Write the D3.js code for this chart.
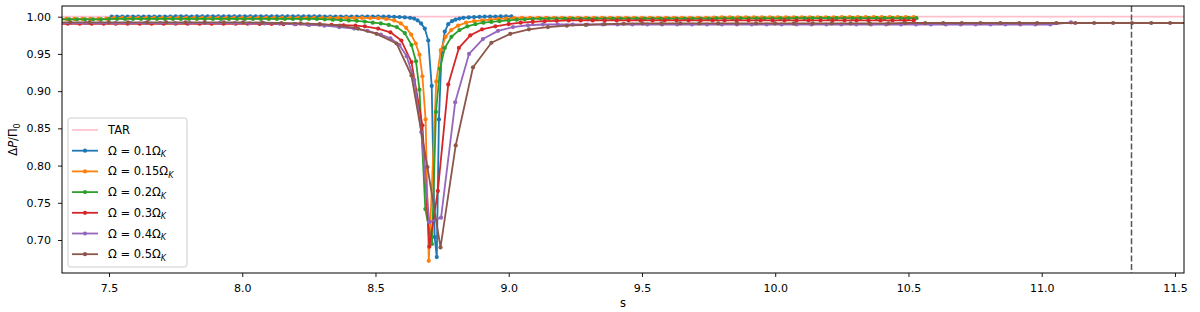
<!DOCTYPE html>
<html>
<head>
<meta charset="utf-8">
<script src="https://cdn.jsdelivr.net/npm/d3@7"></script>
<style>
  body { margin: 0; background: #fff; }
  svg { display: block; }
  text { font-family: "DejaVu Sans", sans-serif; fill: #000; }
</style>
</head>
<body>
<svg id="chart" width="1200" height="312"></svg>
<script>
// values: [s, ΔP/Π0]
const tarLevel = 1.0;
const markerS = 11.337;

const xTicks = [7.5, 8.0, 8.5, 9.0, 9.5, 10.0, 10.5, 11.0, 11.5];
const yTicks = [0.70, 0.75, 0.80, 0.85, 0.90, 0.95, 1.00];

const omega01 = [
  [7.51,1.0],[7.53,1.0],[7.55,1.0002],[7.57,1.0],[7.59,1.0002],[7.61,1.0],[7.63,1.0002],[7.65,1.0],[7.67,1.0002],[7.69,1.0],
  [7.71,1.0002],[7.73,1.0],[7.75,1.0003],[7.77,1.0003],[7.79,1.0003],[7.81,1.0002],[7.83,1.0003],[7.85,1.0003],[7.87,1.0003],[7.89,1.0003],
  [7.91,1.0003],[7.93,1.0003],[7.95,1.0003],[7.97,1.0003],[7.99,1.0003],[8.01,1.0003],[8.03,1.0003],[8.05,1.0003],[8.07,1.0003],[8.09,1.0003],
  [8.11,1.0003],[8.13,1.0003],[8.15,1.0003],[8.17,1.0003],[8.19,1.0003],[8.21,1.0003],[8.23,1.0003],[8.25,1.0003],[8.27,1.0003],[8.29,1.0003],
  [8.31,1.0002],[8.33,1.0002],[8.35,1.0002],[8.37,1.0002],[8.39,1.0002],[8.41,1.0002],[8.43,1.0002],[8.45,1.0002],[8.47,1.0002],[8.49,1.0002],
  [8.51,1.0001],[8.53,1.0],[8.55,1.0],[8.57,0.9998],[8.59,0.9996],[8.61,0.9992],[8.63,0.9985],[8.645,0.9975],[8.658,0.995],[8.671,0.991],
  [8.685,0.984],[8.698,0.968],[8.711,0.907],[8.722,0.704],[8.730,0.677],[8.738,0.862],[8.748,0.952],[8.760,0.980],[8.773,0.990],[8.787,0.994],
  [8.80,0.996],[8.815,0.9975],[8.83,0.9985],[8.85,0.999],[8.87,0.9995],[8.89,0.9998],[8.91,1.0],[8.93,1.0002],[8.95,1.0002],[8.97,1.0003],
  [8.99,1.0003],[9.01,1.0003]
];

const omega015 = [
  [7.31,0.997],[7.34,0.997],[7.37,0.997],[7.40,0.997],[7.43,0.997],[7.46,0.997],[7.49,0.9975],[7.52,0.9985],[7.55,0.9985],[7.58,0.9985],
  [7.61,0.9985],[7.64,0.9985],[7.67,0.9985],[7.70,0.9985],[7.73,0.9985],[7.76,0.9985],[7.79,0.9985],[7.82,0.9985],[7.85,0.9985],[7.88,0.9985],
  [7.91,0.9985],[7.94,0.9985],[7.97,0.9985],[8.00,0.9985],[8.03,0.9985],[8.06,0.9985],[8.09,0.9985],[8.12,0.9985],[8.15,0.9985],[8.18,0.9985],
  [8.21,0.9985],[8.24,0.9985],[8.27,0.9985],[8.30,0.9985],[8.33,0.9985],[8.36,0.9985],[8.39,0.9985],[8.42,0.9985],[8.45,0.9984],[8.48,0.9982],
  [8.51,0.998],[8.54,0.997],[8.57,0.995],[8.595,0.991],[8.615,0.985],[8.634,0.976],[8.651,0.964],[8.665,0.949],[8.676,0.920],[8.688,0.862],
  [8.700,0.672],[8.728,0.913],[8.745,0.955],[8.763,0.973],[8.784,0.982],[8.81,0.988],[8.84,0.992],[8.87,0.994],[8.90,0.995],[8.93,0.996],
  [8.96,0.997],[8.99,0.9975],[9.02,0.998],[9.05,0.9985],[9.08,0.9985],[9.11,0.9985],[9.14,0.9985],[9.17,0.9985],[9.20,0.9985],[9.23,0.9985],
  [9.26,0.9985],[9.29,0.9985],[9.32,0.9985],[9.35,0.9985],[9.38,0.9985],[9.41,0.9985],[9.44,0.9985],[9.47,0.9985],[9.50,0.9985],[9.53,0.9985],
  [9.56,0.9985],[9.59,0.9985],[9.62,0.9985],[9.65,0.9985],[9.68,0.9985],[9.71,0.9985],[9.74,0.9985],[9.77,0.9988],[9.80,0.999],[9.83,0.999],
  [9.86,0.999],[9.89,0.999],[9.92,0.999],[9.95,0.999],[9.98,0.999],[10.01,0.999],[10.04,0.999],[10.07,0.999],[10.10,0.999],[10.13,0.999],
  [10.16,0.9992],[10.19,0.9992],[10.22,0.9992],[10.25,0.9993],[10.28,0.9993],[10.31,0.9994],[10.34,0.9994],[10.37,0.9995],[10.40,0.9995],[10.43,0.9995],
  [10.46,0.9995],[10.49,0.9995],[10.52,0.9995]
];

const omega02 = [
  [7.32,0.9965],[7.35,0.9965],[7.38,0.9965],[7.41,0.9965],[7.44,0.9965],[7.47,0.9965],[7.50,0.9968],[7.53,0.997],[7.56,0.997],[7.59,0.997],
  [7.62,0.997],[7.65,0.997],[7.68,0.997],[7.71,0.997],[7.74,0.997],[7.77,0.997],[7.80,0.997],[7.83,0.997],[7.86,0.997],[7.89,0.997],
  [7.92,0.997],[7.95,0.997],[7.98,0.997],[8.01,0.997],[8.04,0.997],[8.07,0.997],[8.10,0.997],[8.13,0.997],[8.16,0.997],[8.19,0.997],
  [8.22,0.997],[8.25,0.997],[8.28,0.997],[8.31,0.9965],[8.34,0.996],[8.37,0.9955],[8.40,0.995],[8.43,0.9945],[8.46,0.9935],[8.49,0.992],
  [8.52,0.991],[8.55,0.989],[8.58,0.986],[8.61,0.978],[8.635,0.962],[8.652,0.940],[8.665,0.902],[8.687,0.7415],[8.712,0.6946],[8.727,0.872],
  [8.742,0.930],[8.76,0.958],[8.785,0.973],[8.815,0.982],[8.845,0.987],[8.875,0.990],[8.905,0.992],[8.935,0.993],[8.965,0.994],[9.00,0.995],
  [9.03,0.996],[9.06,0.9965],[9.09,0.997],[9.12,0.9975],[9.15,0.9975],[9.18,0.9975],[9.21,0.9975],[9.24,0.9975],[9.27,0.9975],[9.30,0.9975],
  [9.33,0.9975],[9.36,0.9975],[9.39,0.9975],[9.42,0.9975],[9.45,0.9975],[9.48,0.9975],[9.51,0.9975],[9.54,0.9975],[9.57,0.9975],[9.60,0.9975],
  [9.63,0.9975],[9.66,0.9975],[9.69,0.9975],[9.72,0.9975],[9.75,0.9975],[9.78,0.9977],[9.81,0.9977],[9.84,0.9977],[9.87,0.9977],[9.90,0.9977],
  [9.93,0.9978],[9.96,0.9978],[9.99,0.9978],[10.02,0.9978],[10.05,0.9978],[10.08,0.998],[10.11,0.998],[10.14,0.998],[10.17,0.998],[10.20,0.998],
  [10.23,0.998],[10.26,0.998],[10.29,0.998],[10.32,0.998],[10.35,0.998],[10.38,0.998],[10.41,0.998],[10.44,0.998],[10.47,0.998],[10.50,0.998],
  [10.53,0.998]
];

const omega03 = [
  [7.30,0.9905],[7.345,0.9905],[7.39,0.9905],[7.435,0.9905],[7.48,0.9905],[7.525,0.9905],[7.57,0.9905],[7.615,0.9905],[7.66,0.9905],[7.705,0.9905],
  [7.75,0.9905],[7.795,0.9905],[7.84,0.9905],[7.885,0.9905],[7.93,0.9905],[7.975,0.9905],[8.02,0.9905],[8.065,0.9903],[8.11,0.9902],[8.155,0.990],
  [8.20,0.990],[8.245,0.9897],[8.29,0.9895],[8.335,0.989],[8.38,0.9885],[8.425,0.988],[8.46,0.987],[8.51,0.984],[8.556,0.979],[8.597,0.968],
  [8.635,0.939],[8.676,0.854],[8.702,0.691],[8.734,0.766],[8.773,0.909],[8.813,0.958],[8.856,0.975],[8.90,0.983],[8.95,0.987],[9.00,0.990],
  [9.045,0.992],[9.09,0.993],[9.135,0.994],[9.18,0.9945],[9.225,0.995],[9.27,0.995],[9.315,0.995],[9.36,0.995],[9.405,0.995],[9.45,0.995],
  [9.495,0.995],[9.54,0.995],[9.585,0.995],[9.63,0.995],[9.675,0.995],[9.72,0.995],[9.765,0.995],[9.81,0.995],[9.855,0.995],[9.90,0.995],
  [9.945,0.995],[9.99,0.995],[10.035,0.995],[10.08,0.995],[10.125,0.995],[10.17,0.995],[10.215,0.995],[10.26,0.995],[10.305,0.995],[10.35,0.995],
  [10.395,0.995],[10.44,0.995],[10.485,0.995],[10.52,0.995]
];

const omega04 = [
  [7.30,0.9915],[7.356,0.9915],[7.412,0.9915],[7.468,0.9915],[7.524,0.9915],[7.58,0.9915],[7.636,0.9915],[7.692,0.9915],[7.748,0.9915],[7.804,0.9915],
  [7.86,0.9915],[7.916,0.9915],[7.972,0.9915],[8.028,0.9912],[8.084,0.991],[8.14,0.9905],[8.196,0.990],[8.252,0.989],[8.308,0.988],[8.364,0.986],
  [8.42,0.984],[8.47,0.981],[8.52,0.976],[8.556,0.971],[8.59,0.962],[8.617,0.947],[8.645,0.915],[8.672,0.845],[8.702,0.724],[8.746,0.730],
  [8.799,0.885],[8.851,0.950],[8.903,0.970],[8.96,0.981],[9.016,0.986],[9.072,0.9885],[9.128,0.9895],[9.184,0.9895],[9.24,0.9895],[9.296,0.9895],
  [9.352,0.9895],[9.408,0.9895],[9.464,0.9895],[9.52,0.9895],[9.576,0.9895],[9.632,0.9895],[9.688,0.9895],[9.744,0.9895],[9.80,0.9895],[9.856,0.9895],
  [9.912,0.9895],[9.968,0.9895],[10.024,0.9895],[10.08,0.9895],[10.136,0.9895],[10.192,0.9895],[10.248,0.9895],[10.304,0.9895],[10.36,0.9895],[10.416,0.9895],
  [10.472,0.9895],[10.528,0.9895],[10.584,0.9895],[10.64,0.9895],[10.696,0.9895],[10.752,0.9895],[10.808,0.9895],[10.864,0.9895],[10.92,0.9895],[10.976,0.9895],
  [11.032,0.9895],[11.11,0.9925]
];

const omega05 = [
  [7.283,0.9925],[7.355,0.9925],[7.427,0.9925],[7.499,0.9925],[7.571,0.9925],[7.643,0.9925],[7.715,0.9925],[7.787,0.9925],[7.859,0.9925],[7.931,0.9925],
  [8.003,0.9925],[8.075,0.992],[8.147,0.9915],[8.219,0.991],[8.291,0.990],[8.366,0.988],[8.434,0.984],[8.504,0.977],[8.579,0.964],[8.635,0.921],
  [8.695,0.798],[8.744,0.690],[8.801,0.827],[8.866,0.932],[8.935,0.965],[9.006,0.977],[9.076,0.983],[9.147,0.986],[9.218,0.988],[9.289,0.989],
  [9.36,0.990],[9.431,0.9905],[9.502,0.991],[9.573,0.991],[9.644,0.991],[9.715,0.991],[9.786,0.991],[9.857,0.991],[9.928,0.991],[9.999,0.991],
  [10.07,0.991],[10.141,0.991],[10.212,0.991],[10.283,0.991],[10.354,0.991],[10.425,0.991],[10.488,0.9915],[10.563,0.9915],[10.63,0.9915],[10.70,0.9915],
  [10.77,0.9915],[10.845,0.9915],[10.916,0.9915],[10.983,0.9915],[11.055,0.9915],[11.126,0.9915],[11.197,0.9915],[11.268,0.9915],[11.339,0.9915],[11.411,0.9915],
  [11.482,0.9915],[11.553,0.9915]
];

const seriesNames = ["0.1", "0.15", "0.2", "0.3", "0.4", "0.5"];
const seriesColors = ["#1f77b4", "#ff7f0e", "#2ca02c", "#d62728", "#9467bd", "#8c564b"];
const seriesData = [omega01, omega015, omega02, omega03, omega04, omega05];

const width = 1200, height = 312;
const margin = { top: 6, right: 16, bottom: 39, left: 62 };

const svg = d3.select("#chart");

const x = d3.scaleLinear()
    .domain([7.3236, 11.534])
    .range([margin.left, width - margin.right]);

const y = d3.scaleLinear()
    .domain([0.65567, 1.01437])
    .range([height - margin.bottom, margin.top]);

svg.append("defs").append("clipPath")
    .attr("id", "plotClip")
    .append("rect")
    .attr("x", margin.left)
    .attr("y", margin.top)
    .attr("width", width - margin.left - margin.right)
    .attr("height", height - margin.top - margin.bottom);

const plot = svg.append("g").attr("clip-path", "url(#plotClip)");

// TAR reference line
plot.append("line")
    .attr("x1", margin.left)
    .attr("x2", width - margin.right)
    .attr("y1", y(tarLevel))
    .attr("y2", y(tarLevel))
    .attr("stroke", "#ffc0cb")
    .attr("stroke-width", 1.7);

const line = d3.line()
    .x(d => x(d[0]))
    .y(d => y(d[1]));

seriesData.forEach((data, i) => {
    const g = plot.append("g");
    g.append("path")
        .datum(data)
        .attr("fill", "none")
        .attr("stroke", seriesColors[i])
        .attr("stroke-width", 1.8)
        .attr("stroke-linejoin", "round")
        .attr("d", line);
    g.selectAll("circle")
        .data(data)
        .join("circle")
        .attr("cx", d => x(d[0]))
        .attr("cy", d => y(d[1]))
        .attr("r", 2.1)
        .attr("fill", seriesColors[i]);
});

// dashed vertical marker
plot.append("line")
    .attr("x1", x(markerS))
    .attr("x2", x(markerS))
    .attr("y1", margin.top)
    .attr("y2", height - margin.bottom)
    .attr("stroke", "#555")
    .attr("stroke-width", 1.5)
    .attr("stroke-dasharray", "6,2.6");

// axes
const xAxis = svg.append("g")
    .attr("transform", `translate(0,${height - margin.bottom})`)
    .call(d3.axisBottom(x).tickValues(xTicks).tickFormat(d3.format(".1f")).tickSize(4).tickPadding(7));

const yAxis = svg.append("g")
    .attr("transform", `translate(${margin.left},0)`)
    .call(d3.axisLeft(y).tickValues(yTicks).tickFormat(d3.format(".2f")).tickSize(4).tickPadding(7));

[xAxis, yAxis].forEach(a => {
    a.select(".domain").remove();
    a.selectAll("text").style("font-size", "11px").style("font-family", "DejaVu Sans, sans-serif");
    a.selectAll("line").attr("stroke", "#000").attr("stroke-width", 0.9);
});

// frame
svg.append("rect")
    .attr("x", margin.left)
    .attr("y", margin.top)
    .attr("width", width - margin.left - margin.right)
    .attr("height", height - margin.top - margin.bottom)
    .attr("fill", "none")
    .attr("stroke", "#000")
    .attr("stroke-width", 1);

// axis labels
svg.append("text")
    .attr("x", (margin.left + width - margin.right) / 2)
    .attr("y", 307)
    .attr("text-anchor", "middle")
    .style("font-size", "11.5px")
    .text("s");

const yLabel = svg.append("text")
    .attr("transform", `translate(17,${(margin.top + height - margin.bottom) / 2}) rotate(-90)`)
    .attr("text-anchor", "middle")
    .style("font-size", "11.5px");
yLabel.append("tspan").text("Δ");
yLabel.append("tspan").style("font-style", "italic").text("P");
yLabel.append("tspan").text("/Π");
yLabel.append("tspan").attr("dy", 3).style("font-size", "8px").text("0");

// legend
const legend = svg.append("g");
legend.append("rect")
    .attr("x", 68)
    .attr("y", 118)
    .attr("width", 119)
    .attr("height", 149)
    .attr("rx", 2.5)
    .attr("fill", "#fff")
    .attr("fill-opacity", 0.8)
    .attr("stroke", "#cccccc")
    .attr("stroke-width", 1);

const rowY = i => 130 + i * 20.7;

legend.append("line")
    .attr("x1", 72).attr("x2", 98)
    .attr("y1", rowY(0)).attr("y2", rowY(0))
    .attr("stroke", "#ffc0cb")
    .attr("stroke-width", 1.7);
legend.append("text")
    .attr("x", 108)
    .attr("y", rowY(0) + 4)
    .style("font-size", "11.5px")
    .text("TAR");

seriesNames.forEach((name, i) => {
    const cy = rowY(i + 1);
    legend.append("line")
        .attr("x1", 72).attr("x2", 98)
        .attr("y1", cy).attr("y2", cy)
        .attr("stroke", seriesColors[i])
        .attr("stroke-width", 1.8);
    legend.append("circle")
        .attr("cx", 85).attr("cy", cy).attr("r", 2.1)
        .attr("fill", seriesColors[i]);
    const t = legend.append("text")
        .attr("x", 108)
        .attr("y", cy + 4)
        .style("font-size", "11.5px");
    t.append("tspan").text(`Ω = ${name}Ω`);
    t.append("tspan").attr("dy", 2.5).style("font-size", "8px").style("font-style", "italic").text("K");
});
</script>
</body>
</html>
